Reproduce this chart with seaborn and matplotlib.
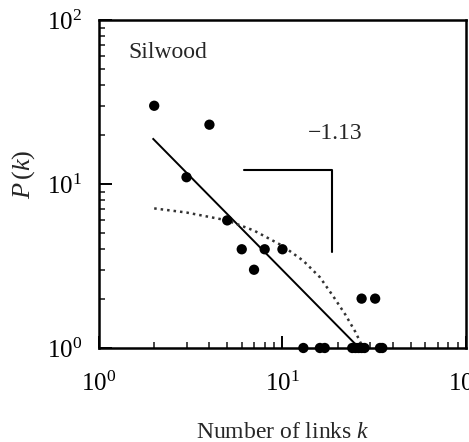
import matplotlib
matplotlib.use("Agg")
import matplotlib.pyplot as plt
import matplotlib.ticker as mticker
import numpy as np
import pandas as pd
import seaborn as sns

# data (degree k, frequency P(k))
k_values = [2, 3, 4, 5, 6, 7, 8, 10, 27, 32,
            13, 16, 17, 24, 25, 26, 27, 28, 34, 35]
pk_values = [30, 11, 23, 6, 4, 3, 4, 4, 2, 2,
             1, 1, 1, 1, 1, 1, 1, 1, 1, 1]

# power-law fit (slope -1.13), end points
power_x = [1.96, 26.2]
power_y = [19.0, 1.0]

# exponential fit (dotted)
expo_x = [2, 3, 5, 7, 10, 13, 16, 19, 22, 25, 27.5]
expo_y = [7.1, 6.7, 6.0, 5.2, 4.2, 3.4, 2.7, 2.05, 1.6, 1.25, 1.0]

# slope marker
bracket_x = [6.17, 18.7, 18.7]
bracket_y = [12.2, 12.2, 3.85]

sns.set_theme(style="ticks")
plt.rcParams["font.family"] = ["Liberation Serif", "DejaVu Serif"]
plt.rcParams["mathtext.fontset"] = "custom"
plt.rcParams["mathtext.rm"] = "Liberation Serif"
plt.rcParams["mathtext.it"] = "Liberation Serif:italic"

df = pd.DataFrame({"k": k_values, "pk": pk_values})

fig = plt.figure(figsize=(4.69, 4.42), dpi=100)
ax = fig.add_axes([0.211, 0.2127, 0.7825, 0.742])

ax.plot(power_x, power_y, color="black", lw=1.4, solid_capstyle="butt")
ax.plot(expo_x, expo_y, color="#333333", lw=1.8, linestyle=(0, (1.0, 1.6)))
ax.plot(bracket_x, bracket_y, color="black", lw=1.5)

sns.scatterplot(data=df, x="k", y="pk", ax=ax, color="black", s=55,
                edgecolor="none", clip_on=False, zorder=5, legend=False)

ax.set_xscale("log")
ax.set_yscale("log")
ax.set_xlim(1, 100)
ax.set_ylim(1, 100)

ax.xaxis.set_minor_formatter(mticker.NullFormatter())
ax.yaxis.set_minor_formatter(mticker.NullFormatter())

for side in ["left", "bottom", "top", "right"]:
    ax.spines[side].set_linewidth(1.8)
    ax.spines[side].set_color("black")

ax.tick_params(which="major", direction="in", length=9, width=1.4,
               labelsize=18, pad=12, colors="black",
               top=False, right=False)
ax.tick_params(axis="x", which="major", pad=17)
ax.tick_params(which="minor", direction="in", length=4.5, width=1.2,
               top=False, right=False)

ax.set_xlabel("Number of links $k$", fontsize=17)
ax.set_ylabel("$P\\,(k)$", fontsize=19)
ax.xaxis.set_label_coords(0.5, -0.225)
ax.yaxis.set_label_coords(-0.17, 0.53)

ax.text(0.079, 0.902, "Silwood", transform=ax.transAxes,
        fontsize=17, ha="left", va="center")
ax.text(0.569, 0.655, "\u22121.13", transform=ax.transAxes,
        fontsize=17, ha="left", va="center")

fig.savefig("out.png", dpi=100)
